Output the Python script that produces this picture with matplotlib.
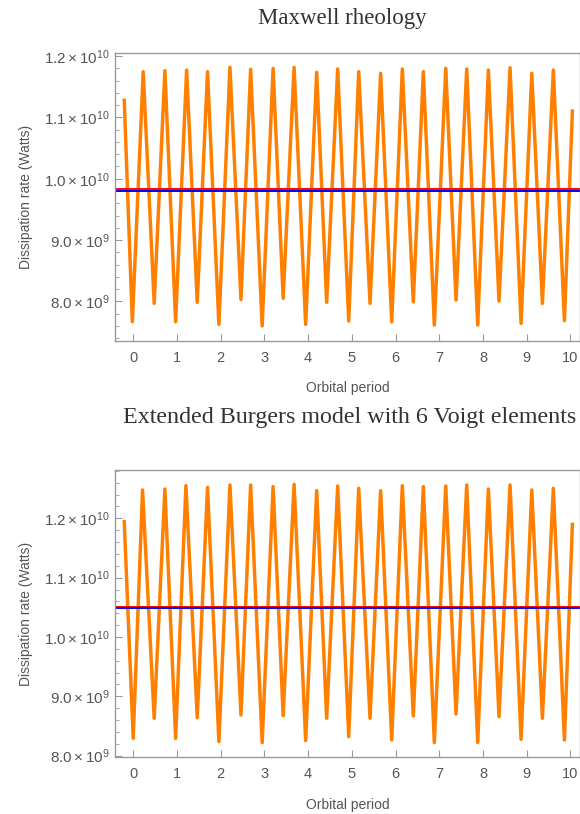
import matplotlib
matplotlib.use("Agg")
import matplotlib.pyplot as plt
import numpy as np

# Orbital phase (in orbital periods) of the start point, every trough/peak, and end point
t_maxwell = [-0.205, -0.02, 0.229, 0.48, 0.725, 0.97, 1.222, 1.465, 1.70, 1.96,
             2.213, 2.465, 2.686, 2.95, 3.20, 3.43, 3.68, 3.945, 4.197, 4.425,
             4.677, 4.93, 5.158, 5.417, 5.66, 5.913, 6.156, 6.407, 6.636, 6.888,
             7.149, 7.384, 7.629, 7.88, 8.124, 8.368, 8.62, 8.872, 9.117, 9.36,
             9.61, 9.863, 10.046]
# Dissipation rate (W), Maxwell rheology
p_maxwell = [1.128e10, 7.667e9, 1.1746e10, 7.967e9, 1.1762e10, 7.667e9, 1.1773e10, 7.984e9,
             1.1746e10, 7.625e9, 1.1817e10, 8.03e9, 1.1785e10, 7.60e9, 1.180e10, 8.049e9,
             1.1817e10, 7.625e9, 1.1736e10, 7.984e9, 1.179e10, 7.679e9, 1.1746e10, 7.967e9,
             1.172e10, 7.667e9, 1.179e10, 7.993e9, 1.1746e10, 7.613e9, 1.180e10, 8.02e9,
             1.179e10, 7.613e9, 1.1773e10, 8.005e9, 1.181e10, 7.64e9, 1.172e10, 7.967e9,
             1.1773e10, 7.684e9, 1.1104e10]
maxwell_mean_red = 9.83e9
maxwell_mean_blue = 9.795e9

t_burgers = [-0.205, 0.0, 0.214, 0.48, 0.725, 0.97, 1.206, 1.465, 1.70, 1.96,
             2.213, 2.465, 2.686, 2.95, 3.20, 3.43, 3.68, 3.945, 4.197, 4.425,
             4.677, 4.93, 5.158, 5.417, 5.66, 5.913, 6.156, 6.407, 6.636, 6.888,
             7.149, 7.384, 7.629, 7.88, 8.124, 8.368, 8.62, 8.872, 9.117, 9.36,
             9.61, 9.863, 10.046]
# Dissipation rate (W), extended Burgers model
p_burgers = [1.1944e10, 8.292e9, 1.2478e10, 8.629e9, 1.2494e10, 8.292e9, 1.2551e10, 8.640e9,
             1.2522e10, 8.236e9, 1.2562e10, 8.685e9, 1.2562e10, 8.219e9, 1.2534e10, 8.674e9,
             1.2573e10, 8.253e9, 1.2466e10, 8.629e9, 1.2545e10, 8.320e9, 1.2506e10, 8.629e9,
             1.2466e10, 8.264e9, 1.2551e10, 8.669e9, 1.2534e10, 8.219e9, 1.2545e10, 8.702e9,
             1.2562e10, 8.219e9, 1.2494e10, 8.657e9, 1.2562e10, 8.275e9, 1.2478e10, 8.629e9,
             1.2506e10, 8.264e9, 1.1899e10]
burgers_mean_red = 1.0512e10
burgers_mean_blue = 1.0492e10

yticks = [8.0e9, 9.0e9, 1.0e10, 1.1e10, 1.2e10]
ytick_labels = [r"$8.0\times10^{9}$", r"$9.0\times10^{9}$", r"$1.0\times10^{10}$",
                r"$1.1\times10^{10}$", r"$1.2\times10^{10}$"]
xticks = list(range(11))

plt.rcParams["mathtext.fontset"] = "custom"
plt.rcParams["mathtext.rm"] = "Liberation Sans"
plt.rcParams["mathtext.it"] = "Liberation Sans"
plt.rcParams["font.family"] = "Liberation Sans"

GRAY = "#555555"
FRAME = "#9a9a9a"
ORANGE = "#ff8000"


def style_axes(ax, ylim):
    ax.set_xticks(xticks)
    ax.set_yticks(yticks)
    ax.set_yticklabels(ytick_labels)
    ax.set_yticks(np.arange(7.4e9, 1.29e10, 0.2e9), minor=True)
    # set limits after the ticks so the minor ticks don't widen the view
    ax.set_xlim(-0.42, 10.22)
    ax.set_ylim(*ylim)
    ax.tick_params(which="both", direction="in", colors=FRAME, labelcolor=GRAY,
                   top=False, right=False)
    ax.tick_params(axis="y", labelsize=11)
    ax.tick_params(axis="x", labelsize=10.5, pad=7)
    ax.tick_params(which="major", length=5, width=0.8)
    ax.tick_params(which="minor", length=3, width=0.6)
    for s in ax.spines.values():
        s.set_color(FRAME)
        s.set_linewidth(1.0)
    ax.set_xlabel("Orbital period", color=GRAY, fontsize=10, labelpad=12)
    ax.set_ylabel("Dissipation rate (Watts)", color=GRAY, fontsize=10, labelpad=8)


fig = plt.figure(figsize=(5.8, 8.14), dpi=100)

ax1 = fig.add_axes([0.198, 0.581, 0.802, 0.3535])
ax1.plot(t_maxwell, p_maxwell, color=ORANGE, lw=2.5, solid_joinstyle="round")
ax1.axhline(maxwell_mean_red, color="#ff0000", lw=1.4)
ax1.axhline(maxwell_mean_blue, color="#0000ff", lw=1.4)
style_axes(ax1, (7.352e9, 1.2046e10))
fig.text(0.59, 0.977, "Maxwell rheology", family="Liberation Serif", fontsize=16.5,
         color="#333333", ha="center", va="center")

ax2 = fig.add_axes([0.198, 0.0697, 0.802, 0.3529])
ax2.plot(t_burgers, p_burgers, color=ORANGE, lw=2.5, solid_joinstyle="round")
ax2.axhline(burgers_mean_red, color="#ff0000", lw=1.4)
ax2.axhline(burgers_mean_blue, color="#0000ff", lw=1.4)
style_axes(ax2, (7.972e9, 1.2815e10))
fig.text(0.602, 0.487, "Extended Burgers model with 6 Voigt elements",
         family="Liberation Serif", fontsize=17.3, color="#333333", ha="center", va="center")

fig.savefig("out.png", dpi=100)
